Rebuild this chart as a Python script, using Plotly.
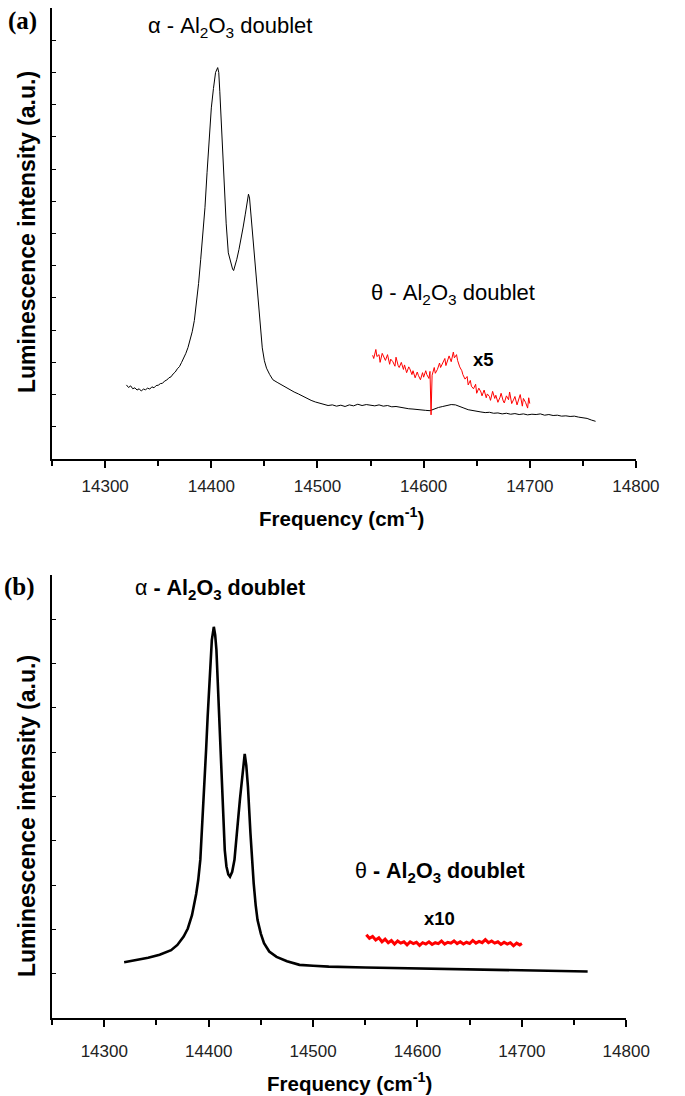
import plotly.graph_objects as go

# ---------------- data ----------------
# Panel (a): black spectrum (y in arbitrary units, axis 0..14)
a_black_x = [14320, 14322, 14324, 14326, 14328, 14330, 14332, 14334, 14336, 14338,
             14340, 14342, 14344, 14346, 14348, 14350, 14352, 14354, 14356, 14358,
             14360, 14362, 14364, 14366, 14368, 14370, 14372, 14374, 14376, 14378,
             14380, 14382, 14384, 14386, 14388, 14390, 14392, 14394, 14396, 14398,
             14400, 14402, 14404, 14406, 14407, 14408, 14410, 14412, 14414, 14416,
             14418, 14420, 14421, 14422, 14424, 14426, 14428, 14430, 14432, 14434,
             14435, 14436, 14438, 14440, 14442, 14444, 14446, 14448, 14450, 14452,
             14455, 14458, 14462, 14466, 14470, 14474, 14478, 14482, 14486, 14490,
             14494, 14498, 14502, 14506, 14510, 14514, 14518, 14522, 14526, 14530,
             14534, 14538, 14542, 14546, 14550, 14554, 14558, 14562, 14566, 14570,
             14574, 14578, 14582, 14586, 14590, 14594, 14598, 14602, 14606, 14610,
             14614, 14618, 14622, 14626, 14630, 14634, 14638, 14642, 14646, 14650,
             14654, 14658, 14662, 14666, 14670, 14674, 14678, 14682, 14686, 14690,
             14694, 14698, 14702, 14706, 14710, 14714, 14718, 14722, 14726, 14730,
             14734, 14738, 14742, 14746, 14750, 14754, 14758, 14762]
a_black_y = [2.30, 2.22, 2.27, 2.18, 2.21, 2.14, 2.18, 2.11, 2.17, 2.15,
             2.20, 2.17, 2.24, 2.21, 2.28, 2.29, 2.34, 2.35, 2.42, 2.45,
             2.52, 2.55, 2.64, 2.70, 2.80, 2.87, 3.00, 3.12, 3.28, 3.46,
             3.68, 3.95, 4.30, 4.80, 5.45, 6.20, 7.00, 7.80, 8.90, 9.90,
             10.90, 11.50, 12.00, 12.15, 12.00, 11.40, 9.90, 8.50, 7.30, 6.40,
             6.10, 5.90, 5.85, 5.95, 6.20, 6.50, 6.80, 7.20, 7.60, 8.10,
             8.22, 8.10, 7.30, 6.40, 5.60, 4.90, 4.10, 3.45, 3.05, 2.82,
             2.62, 2.46, 2.38, 2.30, 2.22, 2.14, 2.08, 2.02, 1.95, 1.88,
             1.82, 1.77, 1.73, 1.70, 1.66, 1.68, 1.64, 1.67, 1.63, 1.68,
             1.65, 1.70, 1.66, 1.69, 1.67, 1.65, 1.68, 1.64, 1.66, 1.62,
             1.63, 1.60, 1.58, 1.56, 1.55, 1.53, 1.52, 1.51, 1.50, 1.56,
             1.60, 1.63, 1.66, 1.69, 1.68, 1.64, 1.58, 1.53, 1.50, 1.47,
             1.46, 1.44, 1.45, 1.42, 1.43, 1.40, 1.42, 1.39, 1.41, 1.38,
             1.40, 1.37, 1.39, 1.38, 1.40, 1.36, 1.38, 1.35, 1.36, 1.33,
             1.34, 1.32, 1.33, 1.30, 1.29, 1.26, 1.21, 1.17]

# Panel (a): red x5 magnified segment
a_red_x = [14552, 14553, 14555, 14556, 14558, 14559, 14561, 14563, 14564, 14566,
           14568, 14569, 14571, 14573, 14574, 14576, 14577, 14579, 14581, 14582,
           14584, 14586, 14587, 14589, 14590, 14592, 14594, 14595, 14597, 14599,
           14600, 14602, 14603, 14605, 14606, 14607, 14608, 14610, 14611, 14613,
           14615, 14616, 14618, 14620, 14621, 14623, 14624, 14626, 14628, 14629,
           14631, 14632, 14634, 14636, 14637, 14639, 14641, 14642, 14644, 14645,
           14647, 14649, 14650, 14652, 14654, 14655, 14657, 14659, 14660, 14662,
           14663, 14665, 14667, 14668, 14670, 14672, 14673, 14675, 14676, 14678,
           14680, 14681, 14683, 14685, 14686, 14688, 14689, 14691, 14693, 14694,
           14696, 14698, 14699, 14700]
a_red_y = [3.22, 3.12, 3.40, 3.18, 3.24, 3.00, 3.28, 3.14, 3.06, 3.24,
           2.94, 3.10, 3.02, 2.88, 3.16, 2.90, 2.84, 3.00, 2.78, 2.92,
           2.68, 2.86, 2.80, 2.62, 2.74, 2.52, 2.70, 2.60, 2.46, 2.68,
           2.54, 2.74, 2.62, 2.50, 2.72, 1.37, 2.60, 2.84, 2.66, 2.78,
           2.98, 2.84, 2.96, 3.12, 2.90, 3.10, 3.20, 3.02, 3.32, 3.14,
           3.24, 3.06, 2.86, 2.74, 2.62, 2.48, 2.56, 2.30, 2.44, 2.26,
           2.18, 2.32, 2.04, 2.20, 2.08, 1.96, 2.14, 1.90, 2.02, 1.94,
           1.82, 2.10, 1.88, 1.98, 1.76, 1.92, 2.04, 1.80, 1.74, 1.96,
           1.84, 2.08, 1.72, 1.86, 1.94, 1.68, 1.82, 2.00, 1.64, 1.88,
           1.76, 1.58, 1.90, 1.72]

# Panel (b): black spectrum (axis 0..10)
b_black_x = [14319, 14330, 14342, 14353, 14364, 14370, 14376, 14380, 14384, 14388,
             14390, 14392, 14394.4, 14396, 14397.5, 14399, 14400.6, 14402, 14403, 14404.9,
             14406.2, 14407.4, 14408.6, 14409.9, 14411, 14412.3, 14413.8, 14415.4, 14417, 14418.8,
             14420.4, 14422.5, 14424.7, 14426.6, 14428.4, 14430, 14431.5, 14433, 14434.5, 14436,
             14437.6, 14440, 14441.5, 14443.1, 14445, 14446.8, 14450, 14453, 14458, 14465,
             14475, 14487, 14500, 14515, 14550, 14600, 14650, 14700, 14763]
b_black_y = [1.26, 1.30, 1.36, 1.43, 1.53, 1.65, 1.84, 2.02, 2.32, 2.80,
             3.12, 3.58, 4.54, 5.25, 6.05, 6.80, 7.55, 8.15, 8.53, 8.83,
             8.65, 8.31, 7.60, 6.80, 6.05, 5.30, 4.50, 3.79, 3.42, 3.24,
             3.19, 3.30, 3.57, 4.00, 4.54, 4.95, 5.30, 5.70, 5.96, 5.70,
             5.22, 4.17, 3.60, 3.04, 2.55, 2.21, 1.90, 1.69, 1.50, 1.38,
             1.28, 1.20, 1.18, 1.16, 1.14, 1.12, 1.10, 1.08, 1.05]

# Panel (b): red x10 magnified segment
b_red_x = [14551, 14554, 14557, 14560, 14563, 14566, 14569, 14572, 14575, 14578,
           14581, 14584, 14587, 14590, 14593, 14596, 14599, 14602, 14605, 14608,
           14611, 14614, 14617, 14620, 14623, 14626, 14629, 14632, 14635, 14638,
           14641, 14644, 14647, 14650, 14653, 14656, 14659, 14662, 14665, 14668,
           14671, 14674, 14677, 14680, 14683, 14686, 14689, 14692, 14695, 14698, 14700]
b_red_y = [1.88, 1.80, 1.84, 1.76, 1.81, 1.72, 1.78, 1.70, 1.75, 1.67,
           1.74, 1.69, 1.72, 1.65, 1.72, 1.68, 1.71, 1.64, 1.70, 1.67,
           1.72, 1.66, 1.70, 1.68, 1.74, 1.67, 1.71, 1.69, 1.74, 1.68,
           1.72, 1.67, 1.71, 1.68, 1.75, 1.69, 1.73, 1.70, 1.77, 1.70,
           1.74, 1.69, 1.72, 1.66, 1.71, 1.67, 1.70, 1.63, 1.69, 1.65, 1.68]

x_tick_vals = [14300, 14400, 14500, 14600, 14700, 14800]
x_tick_text = ["14300", "14400", "14500", "14600", "14700", "14800"]
x_minor_vals = [14250, 14350, 14450, 14550, 14650, 14750]

# ---------------- figure ----------------
W, H = 685, 1096
def fx(p):
    return p / W
def fy(p):
    return 1 - p / H

SANS = "Liberation Sans, Arial, sans-serif"
SERIF = "Liberation Serif, Times New Roman, serif"

fig = go.Figure()
fig.add_trace(go.Scatter(x=a_black_x, y=a_black_y, mode="lines",
                         line=dict(color="black", width=1), xaxis="x", yaxis="y"))
fig.add_trace(go.Scatter(x=a_red_x, y=a_red_y, mode="lines",
                         line=dict(color="#ff0000", width=1), xaxis="x", yaxis="y"))
fig.add_trace(go.Scatter(x=b_black_x, y=b_black_y, mode="lines",
                         line=dict(color="black", width=2.6), xaxis="x2", yaxis="y2"))
fig.add_trace(go.Scatter(x=b_red_x, y=b_red_y, mode="lines",
                         line=dict(color="#ff0000", width=3), xaxis="x2", yaxis="y2"))

def xaxis_style(domain, anchor, standoff):
    return dict(domain=domain, anchor=anchor, range=[14250, 14800],
                tickmode="array", tickvals=x_tick_vals, ticktext=x_tick_text,
                ticks="outside", ticklen=7, tickwidth=1.5, tickcolor="black",
                showline=True, linewidth=1.5, linecolor="black",
                showgrid=False, zeroline=False, ticklabelstandoff=standoff,
                tickfont=dict(family=SANS, size=17, color="#222"),
                minor=dict(tickmode="array", tickvals=x_minor_vals,
                           ticks="outside", ticklen=5, tickwidth=1.5, tickcolor="black",
                           showgrid=False))

def yaxis_style(domain, anchor, top):
    return dict(domain=domain, anchor=anchor, range=[0, top], dtick=1, tick0=0,
                ticks="inside", ticklen=4, tickwidth=1.2, tickcolor="black",
                showticklabels=False, showline=True, linewidth=1.5, linecolor="black",
                showgrid=False, zeroline=False)

fig.update_layout(
    width=W, height=H, margin=dict(l=0, r=0, t=0, b=0),
    paper_bgcolor="white", plot_bgcolor="white", showlegend=False,
    xaxis=xaxis_style([fx(54), fx(659)], "y", 4),
    yaxis=yaxis_style([fy(459), fy(8)], "x", 14),
    xaxis2=xaxis_style([fx(54), fx(649)], "y2", 10),
    yaxis2=yaxis_style([fy(1018), fy(575)], "x2", 10),
)

def ann(text, x, y, size, family=SANS, angle=0, color="black"):
    fig.add_annotation(text=text, x=fx(x), y=fy(y), xref="paper", yref="paper",
                       xanchor="center", yanchor="middle", showarrow=False,
                       textangle=angle, font=dict(family=family, size=size, color=color))

# panel (a) texts
ann("<b>(a)</b>", 23, 21, 25, SERIF)
ann("α - Al<sub>2</sub>O<sub>3</sub> doublet", 238, 27, 22)
ann("θ - Al<sub>2</sub>O<sub>3</sub> doublet", 469, 294, 22)
ann("<b>x5</b>", 501, 359, 18.5)
ann("<b>Luminescence intensity (a.u.)</b>", 28, 232, 23, angle=-90)
ann("<b>Frequency (cm<sup>-1</sup>)</b>", 354, 517, 20.5)

# panel (b) texts
ann("<b>(b)</b>", 20, 587, 25, SERIF)
ann("α <b>- Al<sub>2</sub>O<sub>3</sub> doublet</b>", 228, 589, 21.5)
ann("θ <b>- Al<sub>2</sub>O<sub>3</sub> doublet</b>", 456, 872, 21.5)
ann("<b>x10</b>", 455, 918, 18.5)
ann("<b>Luminescence intensity (a.u.)</b>", 28, 816, 23, angle=-90)
ann("<b>Frequency (cm<sup>-1</sup>)</b>", 362, 1082, 20.5)

fig.write_html("out.html")
